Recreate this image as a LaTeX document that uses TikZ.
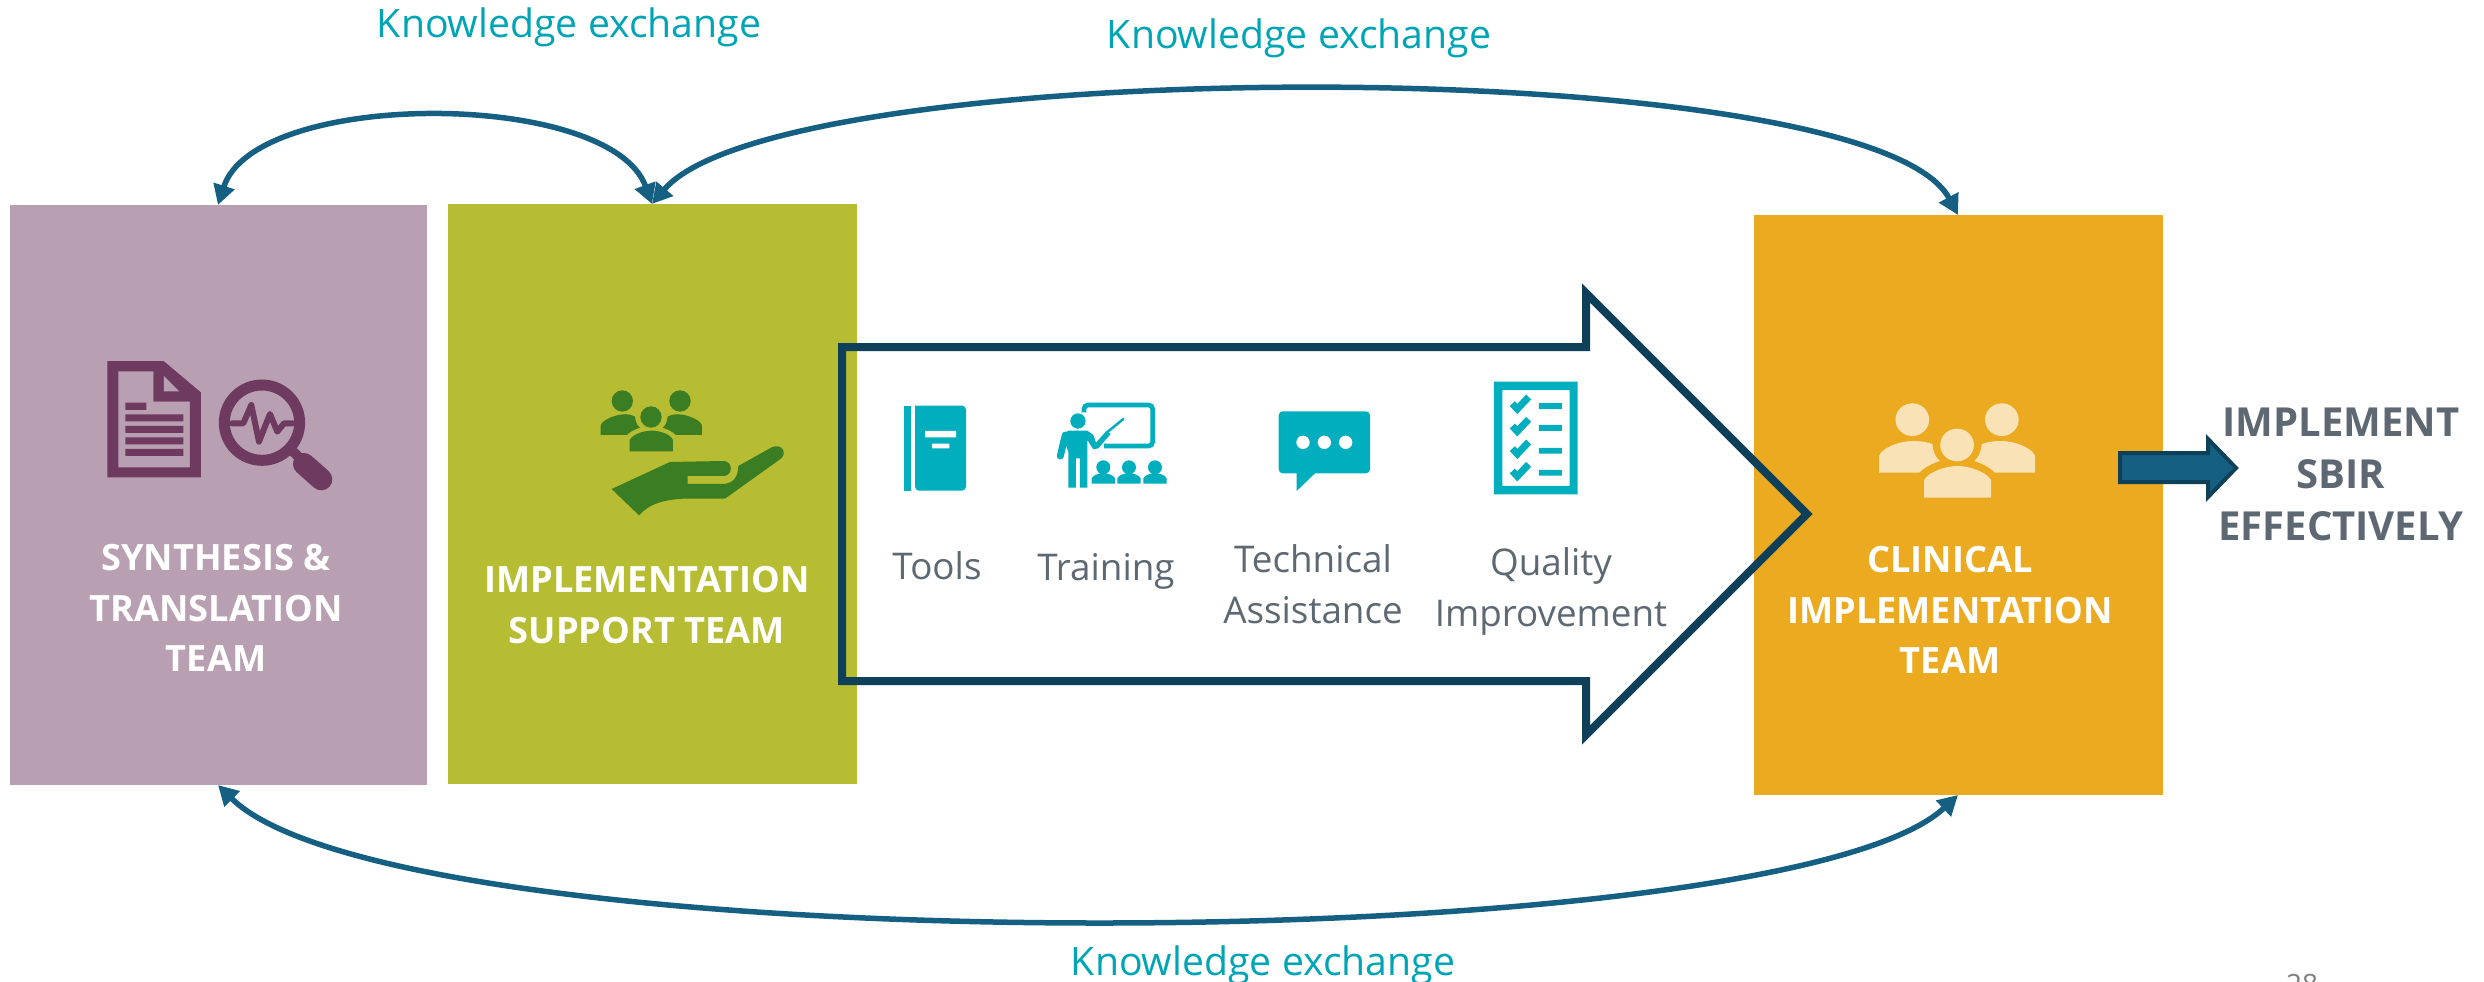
\documentclass[tikz,border=0pt]{standalone}
\usepackage{fontspec}
\setmainfont{Open Sans}
\usetikzlibrary{arrows.meta}
\definecolor{cPurple}{HTML}{B89FB1}
\definecolor{cGreen}{HTML}{B6BD33}
\definecolor{cOrange}{HTML}{EBAA20}
\definecolor{cIconP}{HTML}{6E3A60}
\definecolor{cIconG}{HTML}{3B7D23}
\definecolor{cLight}{HTML}{F9E2B5}
\definecolor{cTeal}{HTML}{00AEBD}
\definecolor{cLabel}{HTML}{00A5B5}
\definecolor{cLink}{HTML}{156082}
\definecolor{cDark}{HTML}{0E4159}
\definecolor{cGray}{HTML}{5E6873}
\definecolor{cNum}{HTML}{7F7F7F}
\tikzset{
  teambox/.style={inner sep=0pt,outer sep=0pt,draw=none},
  link/.style={draw=cLink,line width=5.5pt,{Triangle[length=20pt,width=21pt]}-{Triangle[length=20pt,width=21pt]}},
  exch/.style={text=cLabel,inner sep=0pt,font=\fontsize{39.2}{48}\selectfont},
  title/.style={text=white,inner sep=0pt,align=center,font=\fontsize{36.2}{50.5}\selectfont\bfseries},
  item/.style={text=cGray,inner sep=0pt,align=center,font=\fontsize{36.8}{51}\selectfont},
  goal/.style={text=cGray,inner sep=0pt,align=center,font=\fontsize{40}{52}\selectfont\bfseries},
}
\begin{document}
\begin{tikzpicture}[x=1pt,y=-1pt]
\useasboundingbox (0,0) rectangle (2484,982);
\fill[white] (0,0) rectangle (2484,982);
% boxes
\node[teambox,fill=cPurple,minimum width=417pt,minimum height=580pt] (synth) at (218.5,495) {};
\node[teambox,fill=cGreen,minimum width=409pt,minimum height=580pt] (support) at (652.5,494) {};
\node[teambox,fill=cOrange,minimum width=409pt,minimum height=580pt] (clinical) at (1958.5,505) {};
% titles
\node[title] (synthT) at (216,608) {SYNTHESIS \&\\TRANSLATION\\TEAM};
\node[title] (supportT) at (647,605) {IMPLEMENTATION\\SUPPORT TEAM};
\node[title] (clinicalT) at (1950,610) {CLINICAL\\IMPLEMENTATION\\TEAM};
% big arrow
\draw[cDark,line width=8pt,miter limit=10] (842,347) -- (1586,347) -- (1586,293) -- (1807,514) -- (1586,735) -- (1586,681) -- (842,681) -- cycle;
% small arrow
\draw[cDark,fill=cLink,line width=4pt,miter limit=10] (2120,453) -- (2208,453) -- (2208,439) -- (2236,468) -- (2208,497) -- (2208,482) -- (2120,482) -- cycle;
% connectors
\coordinate (synthN) at (218,205);
\coordinate (supportN) at (652,204);
\coordinate (clinN) at (1958,215);
\coordinate (synthS) at (218,785);
\coordinate (clinS) at (1958,795);
\draw[link] (supportN) .. controls (610,89) and (255,89) .. (synthN);
\draw[link] (supportN) .. controls (780,53) and (1870,50) .. (clinN);
\draw[link] (synthS) .. controls (400,965) and (1780,961) .. (clinS);
% labels
\node[exch] (k1) at (569,27) {Knowledge exchange};
\node[exch] (k2) at (1299,38) {Knowledge exchange};
\node[exch] (k3) at (1263,965) {Knowledge exchange};
\node[item] (tools) at (937,566) {Tools};
\node[item] (training) at (1106,571) {Training};
\node[item] (ta) at (1313,584.5) {Technical\\Assistance};
\node[item] (qi) at (1551,591) {Quality\\Improvement};
\node[goal] (goaltext) at (2341,474.5) {IMPLEMENT\\SBIR\\EFFECTIVELY};
\node[text=cNum,inner sep=0pt,anchor=base,font=\fontsize{28}{34}\selectfont] (page) at (2302,994) {28};
% document + magnifier
\begin{scope}[shift={(80,330)},x=0.3333pt,y=-0.3333pt]
\fill[cIconP,even odd rule] (82,93) -- (250,93) -- (363,188) -- (363,442) -- (82,442) -- cycle
  (115,124) -- (221,124) -- (221,214) -- (330,214) -- (330,412) -- (115,412) -- cycle;
\fill[cIconP] (221,124) -- (250,93) -- (363,188) -- (330,214) -- (221,214) -- cycle;
\fill[cPurple] (252,138) -- (298,184) -- (252,184) -- cycle;
\fill[cIconP] (136,218) rectangle (199,240) (136,253) rectangle (310,274) (136,288) rectangle (310,309) (136,322) rectangle (310,343) (136,357) rectangle (310,378);
\draw[cIconP,line width=11pt] (546,278) circle (113);
\draw[cIconP,line width=10pt] (640,365) -- (675,400);
\draw[cIconP,line width=22pt,line cap=round] (672,402) -- (724,448);
\draw[cIconP,line width=6pt,line join=round,line cap=round] (456,280) -- (490,280) -- (514,225) -- (537,335) -- (570,252) -- (592,305) -- (612,280) -- (638,280);
\end{scope}
% people + hand
\begin{scope}[shift={(570,370)},x=0.3333pt,y=-0.3333pt]
\fill[cIconG] (157,93) circle (32) (330,93) circle (32) (243,141) circle (32);
\fill[cIconG] (92,195) -- (92,165) .. controls (100,145) and (165,120) .. (195,140) .. controls (197,155) and (200,165) .. (210,173) .. controls (195,178) and (180,185) .. (170,195) -- cycle;
\fill[cIconG] (396,195) -- (396,165) .. controls (388,145) and (323,120) .. (293,140) .. controls (291,155) and (288,165) .. (278,173) .. controls (293,178) and (308,185) .. (318,195) -- cycle;
\fill[cIconG] (179,244) -- (179,210) .. controls (190,190) and (225,182) .. (245,182) .. controls (265,182) and (300,190) .. (309,210) -- (309,244) -- cycle;
\fill[cIconG] (125,357) -- (300,276) -- (460,273) .. controls (490,273) and (490,318) .. (460,318) -- (353,318) -- (353,342) -- (460,342) .. controls (490,340) and (505,320) .. (505,288) -- (605,232) .. controls (635,218) and (655,250) .. (630,268) -- (465,386) -- (340,386) .. controls (280,390) and (240,400) .. (207,436) -- cycle;
\end{scope}
% book + trainer
\begin{scope}[shift={(880,360)},x=0.3333pt,y=-0.3333pt]
\fill[cTeal] (72,137) rectangle (92,392);
\fill[cTeal,rounded corners=4pt] (105,137) -- (258,137) -- (258,392) -- (105,392) [sharp corners] -- cycle;
\fill[white] (135,213) rectangle (228,232) (156,251) rectangle (208,265);
\draw[cTeal,line width=4.7pt,rounded corners=4pt] (612,157) -- (612,135) -- (818,135) -- (818,258) -- (672,258);
\fill[cTeal] (594,183) circle (23);
\fill[cTeal] (565,383) -- (565,275) -- (552,240) -- (548,225) -- (565,212) -- (622,212) -- (640,225) -- (648,248) -- (680,212) -- (692,222) -- (655,265) -- (640,268) -- (622,240) -- (622,383) -- (600,383) -- (600,295) -- (588,295) -- (588,383) -- cycle;
\draw[cTeal,line width=7pt,line cap=round] (556,225) -- (541,288);
\draw[cTeal,line width=2.5pt,line cap=round] (680,218) -- (730,177);
\fill[cTeal] (670,322) circle (21) (747,322) circle (21) (825,322) circle (21);
\foreach \cx in {670,747,825}{
  \fill[cTeal] (\cx-35,371) -- (\cx-35,355) .. controls (\cx-25,335) and (\cx+25,335) .. (\cx+35,355) -- (\cx+35,371) -- cycle;
}
\end{scope}
% bubble + checklist
\begin{scope}[shift={(1260,370)},x=0.3333pt,y=-0.3333pt]
\fill[cTeal,rounded corners=4pt] (56,124) rectangle (330,310);
\fill[cTeal] (110,300) -- (110,363) -- (165,310) -- (165,300) -- cycle;
\fill[white] (129,217) circle (20) (193,217) circle (20) (257,217) circle (20);
\fill[cTeal,even odd rule] (702,35) rectangle (953,373) (727,60) rectangle (929,348);
\fill[cTeal] (837,99) rectangle (906,117) (837,165) rectangle (906,183) (837,234) rectangle (906,251) (837,300) rectangle (906,317);
\foreach \cy in {105,172,240,307}{
  \draw[cTeal,line width=7pt] (757,\cy-4) -- (772,\cy+12) -- (806,\cy-24);
}
\end{scope}
% clinical people (zoom scaled 2.435 x 3)
\begin{scope}[shift={(1840,380)},x=0.4107pt,y=-0.3333pt]
\fill[cLight] (176,119) ellipse [x radius=41,y radius=49];
\fill[cLight] (394,119) ellipse [x radius=41,y radius=49];
\fill[cLight] (285,195) ellipse [x radius=41,y radius=49];
\fill[cLight] (95,278) -- (95,228) .. controls (100,205) and (160,165) .. (225,192) .. controls (227,215) and (232,232) .. (243,243) .. controls (225,250) and (205,262) .. (193,278) -- cycle;
\fill[cLight] (475,278) -- (475,228) .. controls (470,205) and (410,165) .. (345,192) .. controls (343,215) and (338,232) .. (327,243) .. controls (345,250) and (365,262) .. (377,278) -- cycle;
\fill[cLight] (205,353) -- (205,300) .. controls (215,275) and (260,258) .. (285,258) .. controls (315,258) and (355,275) .. (368,300) -- (368,353) -- cycle;
\end{scope}
\end{tikzpicture}
\end{document}
